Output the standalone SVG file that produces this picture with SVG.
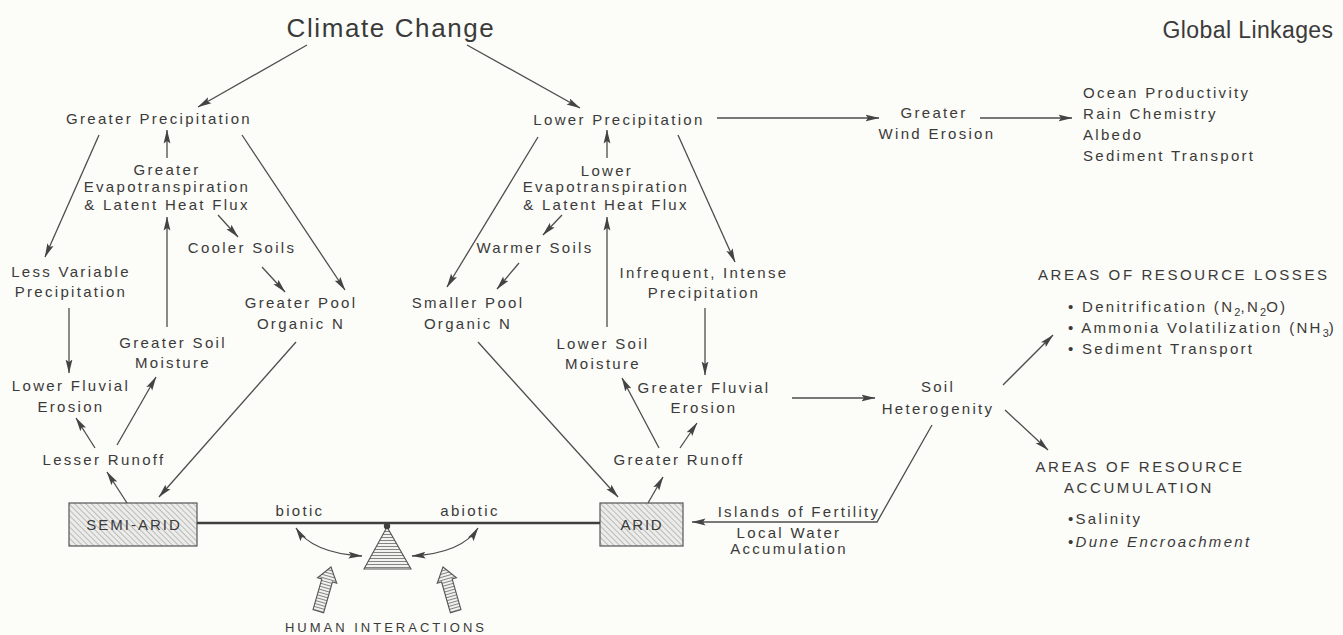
<svg xmlns="http://www.w3.org/2000/svg" width="1343" height="635" viewBox="0 0 1343 635">
  <defs>
    <style>
      text { font-family: "Liberation Sans", Arial, sans-serif; fill: #3a3a3a; font-size: 15px; letter-spacing: 2.3px; }
      .c { text-anchor: middle; }
      .title { font-size: 26px; letter-spacing: 1.6px; }
      .title2 { font-size: 23px; letter-spacing: 0.4px; }
      .caps { letter-spacing: 2.6px; }
      .hum { font-size: 13px; letter-spacing: 3px; }
      .sub { font-size: 11px; letter-spacing: 0; }
      .ln { stroke: #4d4d4d; stroke-width: 1.3; fill: none; }
      .arr { marker-end: url(#ah); }
      .dbl { marker-start: url(#ah); marker-end: url(#ah); }
      .box { fill: url(#diag); stroke: #555; stroke-width: 1.2; }
      .striped { fill: url(#stripes); stroke: #555; stroke-width: 1.1; }
    </style>
    <marker id="ah" viewBox="0 0 14 8" refX="13.5" refY="4" markerWidth="14" markerHeight="8" markerUnits="userSpaceOnUse" orient="auto-start-reverse">
      <path d="M0,0.6 L14,4 L0,7.4 L2.5,4 z" fill="#444"/>
    </marker>
    <pattern id="diag" patternUnits="userSpaceOnUse" width="4" height="4" patternTransform="rotate(-45)">
      <rect width="4" height="4" fill="#ececea"/>
      <line x1="0" y1="0" x2="0" y2="4" stroke="#8a8a8a" stroke-width="1"/>
    </pattern>
    <pattern id="stripes" patternUnits="userSpaceOnUse" width="4" height="3">
      <rect width="4" height="3" fill="#f2f2ef"/>
      <line x1="0" y1="0.5" x2="4" y2="0.5" stroke="#777" stroke-width="0.9"/>
    </pattern>
  </defs>

  <rect width="1343" height="635" fill="#fcfcf8"/>

  <!-- headings -->
  <g id="climate-change">
    <text class="title c" x="391" y="37">Climate Change</text>
  </g>
  <g id="global-linkages">
    <text class="title2 c" x="1248" y="38">Global Linkages</text>
  </g>

  <!-- semi-arid branch -->
  <g id="greater-precipitation">
    <text class="c" x="159" y="124">Greater Precipitation</text>
  </g>
  <g id="greater-evapotranspiration">
    <text class="c" x="167" y="175">Greater</text>
    <text class="c" x="167" y="192">Evapotranspiration</text>
    <text class="c" x="167" y="210">&amp; Latent Heat Flux</text>
  </g>
  <g id="cooler-soils">
    <text class="c" x="242" y="253">Cooler Soils</text>
  </g>
  <g id="less-variable-precipitation">
    <text class="c" x="71" y="277">Less Variable</text>
    <text class="c" x="71" y="297">Precipitation</text>
  </g>
  <g id="greater-pool-organic-n">
    <text class="c" x="301" y="308">Greater Pool</text>
    <text class="c" x="301" y="329">Organic N</text>
  </g>
  <g id="greater-soil-moisture">
    <text class="c" x="173" y="348">Greater Soil</text>
    <text class="c" x="173" y="368">Moisture</text>
  </g>
  <g id="lower-fluvial-erosion">
    <text class="c" x="71" y="391">Lower Fluvial</text>
    <text class="c" x="71" y="412">Erosion</text>
  </g>
  <g id="lesser-runoff">
    <text class="c" x="104" y="465">Lesser Runoff</text>
  </g>
  <g id="semi-arid">
    <rect class="box" x="69" y="503" width="128" height="43"/>
    <text class="c" x="134" y="530" style="letter-spacing:2px">SEMI-ARID</text>
  </g>

  <!-- arid branch -->
  <g id="lower-precipitation">
    <text class="c" x="619" y="125">Lower Precipitation</text>
  </g>
  <g id="lower-evapotranspiration">
    <text class="c" x="607" y="176">Lower</text>
    <text class="c" x="606" y="192">Evapotranspiration</text>
    <text class="c" x="606" y="210">&amp; Latent Heat Flux</text>
  </g>
  <g id="warmer-soils">
    <text class="c" x="535" y="253">Warmer Soils</text>
  </g>
  <g id="smaller-pool-organic-n">
    <text class="c" x="468" y="308">Smaller Pool</text>
    <text class="c" x="468" y="329">Organic N</text>
  </g>
  <g id="infrequent-intense-precipitation">
    <text class="c" x="704" y="278">Infrequent, Intense</text>
    <text class="c" x="704" y="298">Precipitation</text>
  </g>
  <g id="lower-soil-moisture">
    <text class="c" x="603" y="349">Lower Soil</text>
    <text class="c" x="603" y="369">Moisture</text>
  </g>
  <g id="greater-fluvial-erosion">
    <text class="c" x="704" y="393">Greater Fluvial</text>
    <text class="c" x="704" y="413">Erosion</text>
  </g>
  <g id="greater-runoff">
    <text class="c" x="679" y="465">Greater Runoff</text>
  </g>
  <g id="arid">
    <rect class="box" x="600" y="503" width="83" height="43"/>
    <text class="c" x="642" y="530" style="letter-spacing:1.8px">ARID</text>
  </g>

  <!-- wind erosion and global effects -->
  <g id="greater-wind-erosion">
    <text class="c" x="934" y="118">Greater</text>
    <text class="c" x="937" y="139">Wind Erosion</text>
  </g>
  <g id="global-effects">
    <text x="1083" y="98">Ocean Productivity</text>
    <text x="1083" y="119">Rain Chemistry</text>
    <text x="1083" y="140">Albedo</text>
    <text x="1083" y="161">Sediment Transport</text>
  </g>

  <!-- soil heterogeneity and outcomes -->
  <g id="soil-heterogenity">
    <text class="c" x="938" y="392">Soil</text>
    <text class="c" x="938" y="414">Heterogenity</text>
  </g>
  <g id="resource-losses">
    <text class="caps" x="1038" y="280">AREAS OF RESOURCE LOSSES</text>
    <text x="1068" y="312">• Denitrification (N<tspan class="sub" dy="4">2</tspan><tspan dy="-4">,N</tspan><tspan class="sub" dy="4">2</tspan><tspan dy="-4">O)</tspan></text>
    <text x="1068" y="333">• Ammonia Volatilization (NH<tspan class="sub" dy="4">3</tspan><tspan dy="-4">)</tspan></text>
    <text x="1068" y="354">• Sediment Transport</text>
  </g>
  <g id="resource-accumulation">
    <text class="caps c" x="1140" y="472">AREAS OF RESOURCE</text>
    <text class="caps c" x="1139" y="493">ACCUMULATION</text>
    <text x="1068" y="524">•Salinity</text>
    <text x="1068" y="547">•<tspan font-style="italic">Dune Encroachment</tspan></text>
  </g>
  <g id="islands-of-fertility">
    <text class="c" x="799" y="517">Islands of Fertility</text>
    <text class="c" x="789" y="538">Local Water</text>
    <text class="c" x="789" y="554">Accumulation</text>
  </g>

  <!-- balance between semi-arid and arid -->
  <g id="balance">
    <line x1="197" y1="523" x2="600" y2="523" stroke="#3f3f3f" stroke-width="2.6"/>
    <text class="c" x="300" y="516">biotic</text>
    <text class="c" x="470" y="516">abiotic</text>
    <polygon class="striped" points="387,527 364,569 411,569"/>
    <circle cx="387" cy="526" r="3.2" fill="#3f3f3f"/>
  </g>
  <g id="human-interactions">
    <polygon class="striped" transform="translate(331,567) rotate(16)" points="0,0 10,14 5.5,14 5.5,46 -5.5,46 -5.5,14 -10,14"/>
    <polygon class="striped" transform="translate(443,567) rotate(-16)" points="0,0 10,14 5.5,14 5.5,46 -5.5,46 -5.5,14 -10,14"/>
    <text class="hum c" x="386" y="632">HUMAN INTERACTIONS</text>
  </g>

  <!-- connectors -->
  <g id="connectors">
    <path class="ln arr" d="M307,45 L198,107"/>
    <path class="ln arr" d="M467,45 L580,108"/>
    <path class="ln arr" d="M99,135 L45,257"/>
    <path class="ln arr" d="M242,135 L345,290"/>
    <path class="ln arr" d="M167,158 L167,130"/>
    <path class="ln arr" d="M218,215 L238,237"/>
    <path class="ln arr" d="M262,267 L285,292"/>
    <path class="ln arr" d="M69,308 L69,373"/>
    <path class="ln arr" d="M167,327 L167,217"/>
    <path class="ln arr" d="M117,445 L156,377"/>
    <path class="ln arr" d="M95,448 L76,418"/>
    <path class="ln arr" d="M127,503 L107,472"/>
    <path class="ln arr" d="M296,342 L159,497"/>
    <path class="ln arr" d="M717,118 L879,118"/>
    <path class="ln arr" d="M980,118 L1072,118"/>
    <path class="ln arr" d="M538,137 L447,287"/>
    <path class="ln arr" d="M607,158 L607,130"/>
    <path class="ln arr" d="M562,215 L543,235"/>
    <path class="ln arr" d="M519,263 L497,289"/>
    <path class="ln arr" d="M607,327 L607,217"/>
    <path class="ln arr" d="M678,135 L735,262"/>
    <path class="ln arr" d="M705,308 L705,375"/>
    <path class="ln arr" d="M478,342 L618,497"/>
    <path class="ln arr" d="M659,448 L622,378"/>
    <path class="ln arr" d="M680,448 L697,423"/>
    <path class="ln arr" d="M648,503 L663,477"/>
    <path class="ln arr" d="M792,398 L875,398"/>
    <path class="ln arr" d="M932,425 L877,522 L692,522"/>
    <path class="ln arr" d="M1003,385 L1053,335"/>
    <path class="ln arr" d="M1005,410 L1048,450"/>
    <path class="ln dbl" d="M296,528 Q312,553 362,556"/>
    <path class="ln dbl" d="M478,528 Q462,553 412,556"/>
  </g>
</svg>
